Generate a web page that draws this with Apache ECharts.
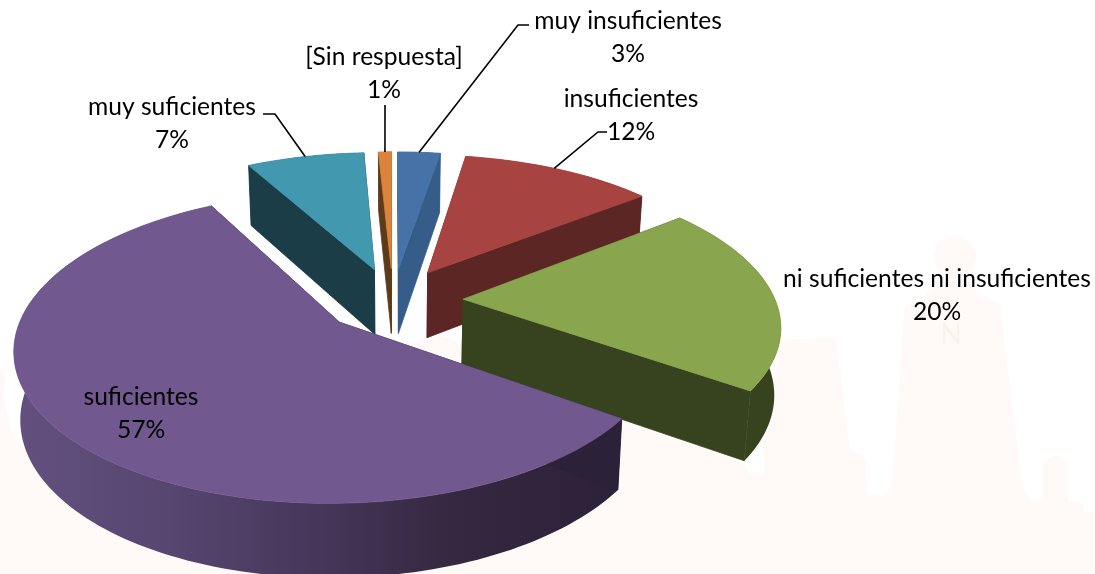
<!DOCTYPE html>
<html>
<head>
<meta charset="utf-8">
<style>html,body{margin:0;padding:0;background:#fff}#c{width:1095px;height:574px}</style>
<script src="https://cdn.jsdelivr.net/npm/echarts@6/dist/echarts.min.js"></script>
</head>
<body>
<div id="c"></div>
<script>
// ---- data
var categories = ['muy insuficientes', 'insuficientes', 'ni suficientes ni insuficientes', 'suficientes', 'muy suficientes', '[Sin respuesta]'];
var values = [2.6, 11.8, 20.4, 57.2, 7.2, 0.8];
var topColors = ['#4672A8', '#A74442', '#89A54E', '#71588F', '#4198AF', '#DB843D'];
var sideColors = ['#365D8A', '#5C2625', '#37431E', '#2B2139', '#1B3D48', '#5D3A18'];

// ---- layout of the label text (centre of the block) and leader elbows
var labelPos = [[628, 38], [631, 116], [937, 296], [141, 414], [172, 124], [384, 74]];
var leaderElbows = [[[518, 25], [529, 25]], [[598, 132], [607, 132]], null, null, [[275, 114], [263, 114]], [[385, 105]]];
var leaderAnchor = [0.5, 0.47, 0.5, 0.5, 0.5, 0.5];

// ---- 3D pie projection
var CX = 393, CY = 300, RX = 312, RY = 144.5, P = 0.159, EXPLODE = 0.225, DEPTH = 66, DEPTH_POW = 0.6, SHRINK = 0.983;
var FONT = 'Lato';
var total = values.reduce(function (a, b) { return a + b; }, 0);
var starts = [];
values.reduce(function (acc, v, i) { starts[i] = acc; return acc + v; }, 0);

function project(u, v) {
  var s = 1 / (1 + P * v);
  return [CX + RX * u * s, CY - RY * v * s, s];
}
function slicePoint(i, deg, r) {
  var mid = (starts[i] + values[i] / 2) / total * 2 * Math.PI;
  var a = deg * Math.PI / 180;
  return project(r * Math.sin(a) + EXPLODE * Math.sin(mid), r * Math.cos(a) + EXPLODE * Math.cos(mid));
}
function drop(p) {
  return [CX + (p[0] - CX) * SHRINK, p[1] + DEPTH * Math.pow(p[2], DEPTH_POW)];
}
function poly(points, fill, z2, stroke) {
  return {
    type: 'polygon', z2: z2,
    shape: { points: points.map(function (p) { return [p[0], p[1]]; }) },
    style: { fill: fill, stroke: stroke || null, lineWidth: stroke ? 0.8 : 0 }
  };
}

function renderItem(params, api) {
  var i = params.dataIndex;
  var a0 = starts[i] / total * 360, a1 = (starts[i] + values[i]) / total * 360;
  var apex = slicePoint(i, 0, 0);
  var arc = [];
  var n = Math.max(4, Math.ceil((a1 - a0) / 1.5));
  for (var k = 0; k <= n; k++) arc.push(slicePoint(i, a0 + (a1 - a0) * k / n, 1));
  var children = [];
  var side = sideColors[i];
  var rimFill = side;
  if (i === 3) {
    rimFill = new echarts.graphic.LinearGradient(0, 0, 1, 0, [
      { offset: 0, color: '#635080' }, { offset: 0.25, color: '#574670' },
      { offset: 0.5, color: '#46365A' }, { offset: 0.72, color: '#352840' }, { offset: 1, color: '#2B2139' }
    ]);
  }
  var first = arc[0], last = arc[arc.length - 1];
  children.push(poly(arc.concat(arc.slice().reverse().map(drop)), rimFill, 1));
  children.push(poly([apex, first, drop(first), drop(apex)], side, 2, side));
  children.push(poly([apex, last, drop(last), drop(apex)], side, 2, side));
  children.push(poly([apex].concat(arc), topColors[i], 3, topColors[i]));
  return { type: 'group', children: children };
}

function labelItem(params, api) {
  var i = params.dataIndex;
  var pos = labelPos[i];
  var children = [{
    type: 'text', z2: 10,
    style: {
      x: pos[0], y: pos[1], text: categories[i] + '\n' + Math.round(api.value(0) / total * 100) + '%',
      fill: '#000', font: '24.6px ' + FONT, lineHeight: 33, align: 'center', verticalAlign: 'middle'
    }
  }];
  if (leaderElbows[i]) {
    var ang = (starts[i] + values[i] * leaderAnchor[i]) / total * 360;
    var pts = [slicePoint(i, ang, 1)].concat(leaderElbows[i]).map(function (p) { return [p[0], p[1]]; });
    children.push({ type: 'polyline', z2: 9, shape: { points: pts }, style: { stroke: '#000', lineWidth: 1.6, fill: null } });
  }
  return { type: 'group', children: children };
}

var watermark = [[0, 365], [5, 378], [4, 400], [9, 422], [15, 440], [26, 450], [200, 400], [440, 335], [600, 400], [745, 465], [749, 473], [765, 473], [762, 435], [783, 340], [836, 337], [850, 450], [866, 458], [866, 495], [885, 495], [892, 488], [905, 305], [922, 300], [925, 295], [938, 285], [955, 278], [972, 285], [980, 296], [1000, 303], [1022, 485], [1030, 500], [1043, 500], [1043, 462], [1055, 455], [1068, 462], [1068, 502], [1083, 502], [1084, 512], [1095, 512], [1095, 574], [0, 574]];

var chart = echarts.init(document.getElementById('c'), null, { renderer: 'canvas' });
var sliceData = values.map(function (v) { return [v]; });
var order = values.map(function (_, i) { return i; }).sort(function (a, b) {
  return Math.cos((starts[b] + values[b] / 2) / total * 2 * Math.PI) - Math.cos((starts[a] + values[a] / 2) / total * 2 * Math.PI);
});
chart.setOption({
  animation: false,
  backgroundColor: '#ffffff',
  graphic: { elements: [
    { type: 'polygon', silent: true, z: -5, shape: { points: watermark }, style: { fill: '#FFFAF7' } },
    { type: 'circle', silent: true, z: -5, shape: { cx: 955, cy: 257, r: 21 }, style: { fill: '#FFFAF7' } },
    { type: 'text', silent: true, z: -4, style: { x: 951, y: 335, text: 'N', fill: '#FBF1EA', font: '28px ' + FONT, align: 'center', verticalAlign: 'middle' } }
  ] },
  series: order.map(function (idx) {
    return {
      type: 'custom', coordinateSystem: 'none', silent: true, z: 2,
      data: values.map(function (v, i) { return i === idx ? [v] : [0]; }),
      renderItem: function (params, api) { return params.dataIndex === idx ? renderItem(params, api) : null; }
    };
  }).concat([{
    type: 'custom', coordinateSystem: 'none', silent: true, z: 5,
    data: sliceData, renderItem: labelItem
  }])
});
</script>
</body>
</html>
